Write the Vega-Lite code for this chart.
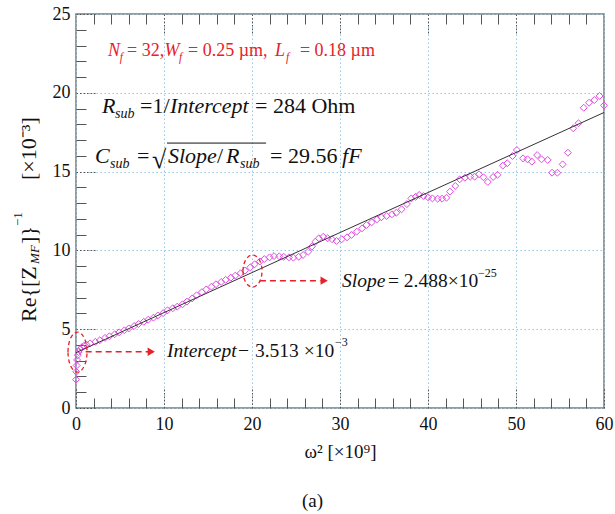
{
  "$schema": "https://vega.github.io/schema/vega-lite/v6.json",
  "width": 528,
  "height": 394,
  "autosize": {"type": "none"},
  "padding": {"left": 76, "top": 14, "right": 11, "bottom": 106},
  "background": "white",
  "config": {
    "view": {"stroke": "#7a7a7a", "strokeWidth": 1.5},
    "font": "Liberation Serif"
  },
  "title": {"text": "(a)", "orient": "bottom", "fontSize": 19, "fontWeight": "normal", "font": "Liberation Serif", "color": "#111", "offset": 31, "anchor": "middle", "frame": "bounds"},
  "resolve": {"axis": {"x": "independent", "y": "independent"}},
  "layer": [
    {
      "data": {"values": [
        {"x": 0.0, "y": 1.8}, {"x": 0.03, "y": 2.3}, {"x": 0.07, "y": 2.7}, {"x": 0.12, "y": 3.05}, {"x": 0.2, "y": 3.35},
        {"x": 0.3, "y": 3.55}, {"x": 0.45, "y": 3.72}, {"x": 0.65, "y": 3.85}, {"x": 0.9, "y": 3.95}, {"x": 1.2, "y": 4.02},
        {"x": 1.6, "y": 4.1}, {"x": 2.2, "y": 4.2}, {"x": 2.7, "y": 4.3}, {"x": 3.3, "y": 4.45}, {"x": 3.8, "y": 4.55},
        {"x": 4.4, "y": 4.68}, {"x": 4.9, "y": 4.8}, {"x": 5.5, "y": 4.93}, {"x": 6.0, "y": 5.05}, {"x": 6.6, "y": 5.2},
        {"x": 7.1, "y": 5.33}, {"x": 7.7, "y": 5.47}, {"x": 8.2, "y": 5.6}, {"x": 8.8, "y": 5.73}, {"x": 9.3, "y": 5.87},
        {"x": 9.9, "y": 6.02}, {"x": 10.4, "y": 6.2}, {"x": 11.0, "y": 6.33}, {"x": 11.5, "y": 6.43}, {"x": 12.1, "y": 6.58},
        {"x": 12.6, "y": 6.75}, {"x": 13.2, "y": 6.95}, {"x": 13.7, "y": 7.15}, {"x": 14.3, "y": 7.35}, {"x": 14.8, "y": 7.52},
        {"x": 15.4, "y": 7.7}, {"x": 15.9, "y": 7.85}, {"x": 16.5, "y": 8.0}, {"x": 17.0, "y": 8.13}, {"x": 17.6, "y": 8.27},
        {"x": 18.1, "y": 8.4}, {"x": 18.7, "y": 8.55}, {"x": 19.2, "y": 8.72}, {"x": 19.8, "y": 8.92}, {"x": 20.3, "y": 9.12},
        {"x": 20.9, "y": 9.3}, {"x": 21.4, "y": 9.45}, {"x": 22.0, "y": 9.56}, {"x": 22.5, "y": 9.64}, {"x": 23.1, "y": 9.62},
        {"x": 23.6, "y": 9.6}, {"x": 24.2, "y": 9.56}, {"x": 24.7, "y": 9.54}, {"x": 25.3, "y": 9.6}, {"x": 25.8, "y": 9.71},
        {"x": 26.4, "y": 9.92}, {"x": 26.8, "y": 10.24}, {"x": 27.2, "y": 10.55}, {"x": 27.6, "y": 10.77}, {"x": 28.1, "y": 10.87},
        {"x": 28.6, "y": 10.77}, {"x": 29.1, "y": 10.71}, {"x": 29.6, "y": 10.6}, {"x": 30.2, "y": 10.71}, {"x": 30.8, "y": 10.83},
        {"x": 31.3, "y": 10.98}, {"x": 31.9, "y": 11.19}, {"x": 32.5, "y": 11.4}, {"x": 33.0, "y": 11.61}, {"x": 33.6, "y": 11.78},
        {"x": 34.2, "y": 11.97}, {"x": 34.7, "y": 12.1}, {"x": 35.3, "y": 12.18}, {"x": 35.9, "y": 12.29}, {"x": 36.4, "y": 12.39},
        {"x": 37.0, "y": 12.61}, {"x": 37.6, "y": 12.94}, {"x": 38.1, "y": 13.3}, {"x": 38.6, "y": 13.4}, {"x": 39.0, "y": 13.52},
        {"x": 39.5, "y": 13.45}, {"x": 40.0, "y": 13.37}, {"x": 40.5, "y": 13.3}, {"x": 41.1, "y": 13.28}, {"x": 41.6, "y": 13.28},
        {"x": 42.1, "y": 13.34}, {"x": 42.5, "y": 13.73}, {"x": 43.1, "y": 14.09}, {"x": 43.6, "y": 14.51}, {"x": 44.2, "y": 14.61},
        {"x": 44.8, "y": 14.68}, {"x": 45.3, "y": 14.68}, {"x": 45.8, "y": 14.83}, {"x": 46.3, "y": 14.64}, {"x": 46.8, "y": 14.34},
        {"x": 47.4, "y": 14.66}, {"x": 47.9, "y": 14.8}, {"x": 48.5, "y": 15.38}, {"x": 49.0, "y": 15.53}, {"x": 49.6, "y": 15.99},
        {"x": 50.1, "y": 16.37}, {"x": 50.8, "y": 15.84}, {"x": 51.3, "y": 15.78}, {"x": 51.8, "y": 15.63}, {"x": 52.4, "y": 16.05},
        {"x": 52.9, "y": 15.78}, {"x": 53.6, "y": 15.74}, {"x": 54.1, "y": 14.93}, {"x": 54.7, "y": 14.93}, {"x": 55.3, "y": 15.46},
        {"x": 55.9, "y": 16.2}, {"x": 56.5, "y": 17.75}, {"x": 57.1, "y": 18.07}, {"x": 57.7, "y": 19.05}, {"x": 58.3, "y": 19.37},
        {"x": 58.9, "y": 19.54}, {"x": 59.5, "y": 19.8}, {"x": 60.0, "y": 19.2}
      ]},
      "mark": {"type": "point", "shape": "diamond", "filled": false, "stroke": "#e04ce0", "strokeWidth": 1, "size": 48, "opacity": 1},
      "encoding": {
        "x": {"field": "x", "type": "quantitative", "scale": {"domain": [0, 60], "nice": false, "zero": false},
          "axis": {"orient": "bottom", "values": [0, 10, 20, 30, 40, 50, 60], "grid": true, "gridColor": "#8ec9ee", "gridDash": [1.5, 2.5], "gridWidth": 1,
            "tickSize": -20, "tickColor": "#555", "tickDash": [1.5, 2], "tickWidth": 1, "domain": false,
            "labelFontSize": 18, "labelFont": "Liberation Serif", "labelColor": "#111", "labelPadding": 27, "labelFlush": false,
            "title": "ω² [×10⁹]", "titleFontSize": 19, "titleFontWeight": "normal", "titleFont": "Liberation Serif", "titleColor": "#111", "titlePadding": 9}},
        "y": {"field": "y", "type": "quantitative", "scale": {"domain": [0, 25], "nice": false, "zero": false},
          "axis": {"orient": "left", "values": [0, 5, 10, 15, 20, 25], "grid": true, "gridColor": "#8ec9ee", "gridDash": [1.5, 2.5], "gridWidth": 1,
            "tickSize": -20, "tickColor": "#555", "tickDash": [1.5, 2], "tickWidth": 1, "domain": false,
            "labelFontSize": 18, "labelFont": "Liberation Serif", "labelColor": "#111", "labelPadding": 26, "labelFlush": false, "title": null}}
      }
    },
    {
      "data": {"values": [{"x": 0, "y": 3.513}, {"x": 60, "y": 18.75}]},
      "mark": {"type": "line", "color": "#333", "strokeWidth": 1},
      "encoding": {
        "x": {"field": "x", "type": "quantitative",
          "axis": {"orient": "bottom", "values": [2, 4, 6, 8, 12, 14, 16, 18, 22, 24, 26, 28, 32, 34, 36, 38, 42, 44, 46, 48, 52, 54, 56, 58],
            "grid": false, "labels": false, "domain": false, "tickSize": -10, "tickColor": "#555", "tickWidth": 1, "title": null}},
        "y": {"field": "y", "type": "quantitative",
          "axis": {"orient": "left", "values": [1, 2, 3, 4, 6, 7, 8, 9, 11, 12, 13, 14, 16, 17, 18, 19, 21, 22, 23, 24],
            "grid": false, "labels": false, "domain": false, "tickSize": -10, "tickColor": "#555", "tickWidth": 1, "title": null}}
      }
    },
    {
      "data": {"values": [{"x": 0.17, "y": 3.55}]},
      "mark": {"type": "point", "shape": "M -0.475 0 A 0.475 1 0 1 1 0.475 0 A 0.475 1 0 1 1 -0.475 0 Z", "size": 1600, "filled": false, "stroke": "#e8202a", "strokeWidth": 1.3, "strokeDash": [4, 3], "opacity": 1},
      "encoding": {
        "x": {"field": "x", "type": "quantitative",
          "axis": {"orient": "top", "values": [2, 4, 6, 8, 12, 14, 16, 18, 22, 24, 26, 28, 32, 34, 36, 38, 42, 44, 46, 48, 52, 54, 56, 58],
            "grid": false, "labels": false, "domain": false, "tickSize": -10, "tickColor": "#555", "tickWidth": 1, "title": null}},
        "y": {"field": "y", "type": "quantitative", "axis": null}
      }
    },
    {
      "data": {"values": [{"x": 20.06, "y": 8.69}]},
      "mark": {"type": "point", "shape": "M -0.594 0 A 0.594 1 0 1 1 0.594 0 A 0.594 1 0 1 1 -0.594 0 Z", "size": 1024, "filled": false, "stroke": "#e8202a", "strokeWidth": 1.3, "strokeDash": [4, 3], "opacity": 1},
      "encoding": {
        "x": {"field": "x", "type": "quantitative",
          "axis": {"orient": "top", "values": [10, 20, 30, 40, 50],
            "grid": false, "labels": false, "domain": false, "tickSize": -20, "tickColor": "#555", "tickDash": [1.5, 2], "tickWidth": 1, "title": null}},
        "y": {"field": "y", "type": "quantitative", "axis": null}
      }
    },
    {
      "data": {"values": [{"x": 1.1, "x2": 8.2, "y": 3.57}, {"x": 20.9, "x2": 27.8, "y": 8.08}]},
      "mark": {"type": "rule", "color": "#e8202a", "strokeWidth": 1.5, "strokeDash": [6, 4]},
      "encoding": {
        "x": {"field": "x", "type": "quantitative", "axis": null},
        "x2": {"field": "x2"},
        "y": {"field": "y", "type": "quantitative", "axis": null}
      }
    },
    {
      "data": {"values": [{"x": 8.55, "y": 3.57}, {"x": 28.2, "y": 8.08}]},
      "mark": {"type": "point", "shape": "triangle-right", "filled": true, "color": "#e8202a", "size": 70, "opacity": 1},
      "encoding": {
        "x": {"field": "x", "type": "quantitative", "axis": null},
        "y": {"field": "y", "type": "quantitative", "axis": null}
      }
    },
    {
      "data": {"values": [{"x": 10.34, "x2": 21.6, "y": 16.81}]},
      "mark": {"type": "rule", "color": "#111", "strokeWidth": 1},
      "encoding": {
        "x": {"field": "x", "type": "quantitative", "axis": null},
        "x2": {"field": "x2"},
        "y": {"field": "y", "type": "quantitative", "axis": null}
      }
    },
    {
      "data": {"values": [
        {"x": 5.8, "y": 22.34, "t": "= 32,"},
        {"x": 12.73, "y": 22.34, "t": "= 0.25 µm,"},
        {"x": 25.45, "y": 22.34, "t": "= 0.18 µm"}
      ]},
      "mark": {"type": "text", "align": "left", "baseline": "alphabetic", "font": "Liberation Serif", "fontSize": 18, "color": "#e8202a"},
      "encoding": {
        "x": {"field": "x", "type": "quantitative", "axis": null},
        "y": {"field": "y", "type": "quantitative", "axis": null},
        "text": {"field": "t"}
      }
    },
    {
      "data": {"values": [
        {"x": 3.64, "y": 22.34, "t": "N"},
        {"x": 10.06, "y": 22.34, "t": "W"},
        {"x": 22.61, "y": 22.34, "t": "L"}
      ]},
      "mark": {"type": "text", "align": "left", "baseline": "alphabetic", "font": "Liberation Serif", "fontStyle": "italic", "fontSize": 18, "color": "#e8202a"},
      "encoding": {
        "x": {"field": "x", "type": "quantitative", "axis": null},
        "y": {"field": "y", "type": "quantitative", "axis": null},
        "text": {"field": "t"}
      }
    },
    {
      "data": {"values": [
        {"x": 4.98, "y": 22.02, "t": "f"},
        {"x": 11.7, "y": 22.02, "t": "f"},
        {"x": 23.86, "y": 22.02, "t": "f"}
      ]},
      "mark": {"type": "text", "align": "left", "baseline": "alphabetic", "font": "Liberation Serif", "fontStyle": "italic", "fontSize": 11.5, "color": "#e8202a"},
      "encoding": {
        "x": {"field": "x", "type": "quantitative", "axis": null},
        "y": {"field": "y", "type": "quantitative", "axis": null},
        "text": {"field": "t"}
      }
    },
    {
      "data": {"values": [
        {"x": 7.27, "y": 18.72, "t": "=1/"},
        {"x": 20.34, "y": 18.72, "t": "= 284 Ohm"},
        {"x": 6.93, "y": 15.55, "t": "="},
        {"x": 16.02, "y": 15.55, "t": "/"},
        {"x": 22.05, "y": 15.55, "t": "= 29.56"}
      ]},
      "mark": {"type": "text", "align": "left", "baseline": "alphabetic", "font": "Liberation Serif", "fontSize": 22, "color": "#111"},
      "encoding": {
        "x": {"field": "x", "type": "quantitative", "axis": null},
        "y": {"field": "y", "type": "quantitative", "axis": null},
        "text": {"field": "t"}
      }
    },
    {
      "data": {"values": [
        {"x": 2.95, "y": 18.72, "t": "R"},
        {"x": 10.68, "y": 18.72, "t": "Intercept"},
        {"x": 2.16, "y": 15.55, "t": "C"},
        {"x": 10.45, "y": 15.55, "t": "Slope"},
        {"x": 17.05, "y": 15.55, "t": "R"},
        {"x": 30.23, "y": 15.55, "t": "fF"}
      ]},
      "mark": {"type": "text", "align": "left", "baseline": "alphabetic", "font": "Liberation Serif", "fontStyle": "italic", "fontSize": 22, "color": "#111"},
      "encoding": {
        "x": {"field": "x", "type": "quantitative", "axis": null},
        "y": {"field": "y", "type": "quantitative", "axis": null},
        "text": {"field": "t"}
      }
    },
    {
      "data": {"values": [
        {"x": 35.45, "y": 7.68, "t": "= 2.488×10"},
        {"x": 18.41, "y": 3.24, "t": "−"},
        {"x": 20.34, "y": 3.24, "t": "3.513 ×10"}
      ]},
      "mark": {"type": "text", "align": "left", "baseline": "alphabetic", "font": "Liberation Serif", "fontSize": 19.5, "color": "#111"},
      "encoding": {
        "x": {"field": "x", "type": "quantitative", "axis": null},
        "y": {"field": "y", "type": "quantitative", "axis": null},
        "text": {"field": "t"}
      }
    },
    {
      "data": {"values": [
        {"x": 30.23, "y": 7.68, "t": "Slope"},
        {"x": 10.34, "y": 3.24, "t": "Intercept"}
      ]},
      "mark": {"type": "text", "align": "left", "baseline": "alphabetic", "font": "Liberation Serif", "fontStyle": "italic", "fontSize": 19.5, "color": "#111"},
      "encoding": {
        "x": {"field": "x", "type": "quantitative", "axis": null},
        "y": {"field": "y", "type": "quantitative", "axis": null},
        "text": {"field": "t"}
      }
    },
    {
      "data": {"values": [
        {"x": 4.43, "y": 18.4, "t": "sub"},
        {"x": 3.86, "y": 15.23, "t": "sub"},
        {"x": 18.64, "y": 15.23, "t": "sub"}
      ]},
      "mark": {"type": "text", "align": "left", "baseline": "alphabetic", "font": "Liberation Serif", "fontStyle": "italic", "fontSize": 14, "color": "#111"},
      "encoding": {
        "x": {"field": "x", "type": "quantitative", "axis": null},
        "y": {"field": "y", "type": "quantitative", "axis": null},
        "text": {"field": "t"}
      }
    },
    {
      "data": {"values": [
        {"x": 45.68, "y": 8.31, "t": "−25"},
        {"x": 29.43, "y": 3.93, "t": "−3"}
      ]},
      "mark": {"type": "text", "align": "left", "baseline": "alphabetic", "font": "Liberation Serif", "fontSize": 12, "color": "#111"},
      "encoding": {
        "x": {"field": "x", "type": "quantitative", "axis": null},
        "y": {"field": "y", "type": "quantitative", "axis": null},
        "text": {"field": "t"}
      }
    },
    {
      "data": {"values": [{"x": 8.64, "y": 15.23, "t": "√"}]},
      "mark": {"type": "text", "align": "left", "baseline": "alphabetic", "font": "Liberation Serif", "fontSize": 26, "color": "#111"},
      "encoding": {
        "x": {"field": "x", "type": "quantitative", "axis": null},
        "y": {"field": "y", "type": "quantitative", "axis": null},
        "text": {"field": "t"}
      }
    },
    {
      "data": {"values": [
        {"x": -4.55, "y": 5.46, "t": "Re{[Z"},
        {"x": -4.55, "y": 10.41, "t": "]}"},
        {"x": -4.55, "y": 14.47, "t": "[×10⁻³]"}
      ]},
      "mark": {"type": "text", "align": "left", "baseline": "alphabetic", "angle": 270, "font": "Liberation Serif", "fontSize": 22, "color": "#111"},
      "encoding": {
        "x": {"field": "x", "type": "quantitative", "axis": null},
        "y": {"field": "y", "type": "quantitative", "axis": null},
        "text": {"field": "t"}
      }
    },
    {
      "data": {"values": [{"x": -4.2, "y": 9.14, "t": "MF"}]},
      "mark": {"type": "text", "align": "left", "baseline": "alphabetic", "angle": 270, "font": "Liberation Serif", "fontStyle": "italic", "fontSize": 13, "color": "#111"},
      "encoding": {
        "x": {"field": "x", "type": "quantitative", "axis": null},
        "y": {"field": "y", "type": "quantitative", "axis": null},
        "text": {"field": "t"}
      }
    },
    {
      "data": {"values": [{"x": -6.14, "y": 11.55, "t": "−1"}]},
      "mark": {"type": "text", "align": "left", "baseline": "alphabetic", "angle": 270, "font": "Liberation Serif", "fontSize": 13, "color": "#111"},
      "encoding": {
        "x": {"field": "x", "type": "quantitative", "axis": null},
        "y": {"field": "y", "type": "quantitative", "axis": null},
        "text": {"field": "t"}
      }
    }
  ]
}
